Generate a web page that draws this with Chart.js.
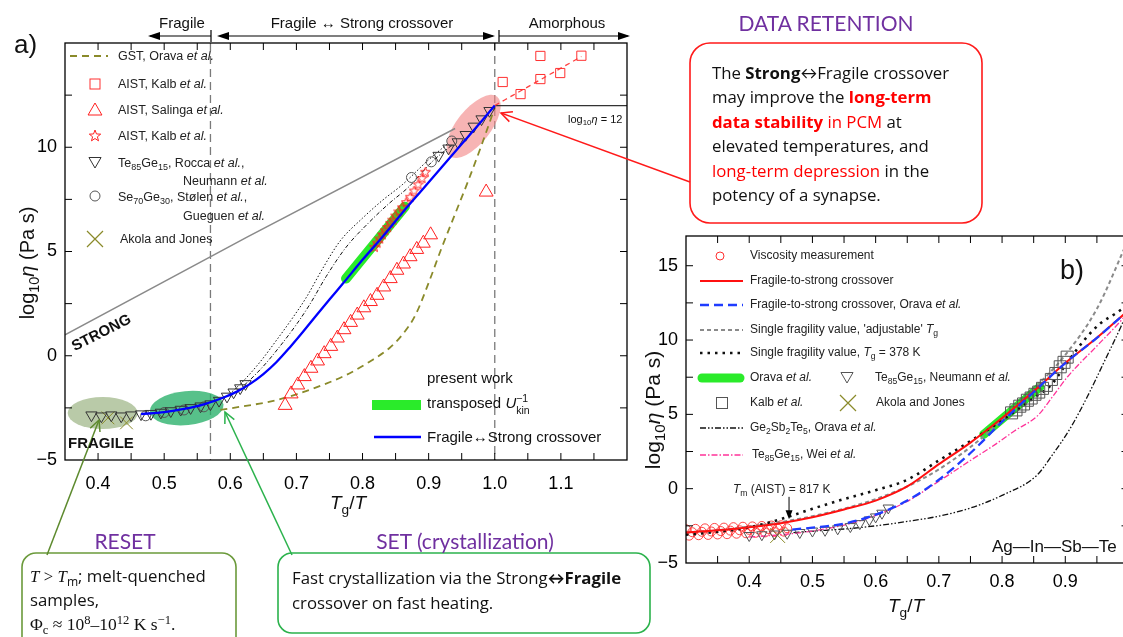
<!DOCTYPE html>
<html lang="en">
<head>
<meta charset="utf-8">
<title>Viscosity and the fragile-to-strong crossover</title>
<script src="https://cdn.jsdelivr.net/npm/chart.js@4.4.1/dist/chart.umd.min.js"></script>
<style>
  body { margin: 0; width: 1123px; height: 637px; overflow: hidden; position: relative; background: #fff;
         font-family: "Liberation Sans", Arial, sans-serif; color: #111; }
  canvas, svg, .t { position: absolute; }
  #chartA { left: 0; top: 0; }
  #chartB { left: 620px; top: 200px; }
  svg { left: 0; top: 0; }
  .t { white-space: nowrap; line-height: 1.15; transform: translateY(-50%); }
  .c { transform: translate(-50%, -50%); }
  .lg { font-size: 12px; color: #222; }
  .la { font-size: 12.5px; }
  sub { font-size: 72%; vertical-align: -0.35em; line-height: 0; }
  sup { font-size: 72%; vertical-align: 0.5em; line-height: 0; }
  .ss { display: inline-block; vertical-align: -0.6em; font-size: 70%; line-height: 1.1; }
  .ss span { display: block; }
  .box { font-family: "Open Sans", Lato, sans-serif; font-size: 16.8px; color: #111; }
  .head { font-family: Lato, "Open Sans", sans-serif; color: #7030a0; font-size: 21px; }
  .red { color: #ff0000; }
  .serif { font-family: "Liberation Serif", "DejaVu Serif", serif; }
</style>
</head>
<body>
<canvas id="chartA" width="640" height="500"></canvas>
<canvas id="chartB" width="520" height="400"></canvas>
<svg id="marks" width="1123" height="637"></svg>

<!-- panel (a) -->
<div class="t c" style="left:182px;top:23px;font-size:15px">Fragile</div>
<div class="t c" style="left:362px;top:23px;font-size:15px">Fragile ↔ Strong crossover</div>
<div class="t c" style="left:567px;top:23px;font-size:15px">Amorphous</div>
<div class="t" style="left:14px;top:45px;font-size:26px">a)</div>
<div class="t" style="left:27px;top:263px;font-size:20px;transform:translate(-50%,-50%) rotate(-90deg)">log<sub>10</sub><i>η</i> (Pa s)</div>
<div class="t c" style="left:348px;top:503px;font-size:19px"><i>T</i><sub>g</sub>/<i>T</i></div>

<div class="t lg la" style="left:118px;top:56px">GST, Orava <i>et al.</i></div>
<div class="t lg la" style="left:118px;top:84px">AIST, Kalb <i>et al.</i></div>
<div class="t lg la" style="left:118px;top:110px">AIST, Salinga <i>et al.</i></div>
<div class="t lg la" style="left:118px;top:136px">AIST, Kalb <i>et al.</i></div>
<div class="t lg la" style="left:118px;top:163px">Te<sub>85</sub>Ge<sub>15</sub>, Rocca <i>et al.</i>,</div>
<div class="t lg la" style="left:183px;top:181px">Neumann <i>et al.</i></div>
<div class="t lg la" style="left:118px;top:197px">Se<sub>70</sub>Ge<sub>30</sub>, Stølen <i>et al.</i>,</div>
<div class="t lg la" style="left:183px;top:216px">Gueguen <i>et al.</i></div>
<div class="t lg la" style="left:120px;top:239px">Akola and Jones</div>

<div class="t" style="left:427px;top:378px;font-size:15px">present work</div>
<div class="t" style="left:427px;top:405px;font-size:15px">transposed <i>U</i><span class="ss"><span>−1</span><span>kin</span></span></div>
<div class="t" style="left:427px;top:437px;font-size:15px">Fragile↔Strong crossover</div>
<div class="t" style="left:568px;top:119px;font-size:11px">log<sub>10</sub><i>η</i> = 12</div>
<div class="t" style="left:101px;top:332px;font-size:15px;font-weight:bold;transform:translate(-50%,-50%) rotate(-27deg)">STRONG</div>
<div class="t" style="left:68px;top:443px;font-size:15px;font-weight:bold">FRAGILE</div>

<!-- panel (b) -->
<div class="t c" style="left:1072px;top:271px;font-size:27px">b)</div>
<div class="t" style="left:653px;top:410px;font-size:21px;transform:translate(-50%,-50%) rotate(-90deg)">log<sub>10</sub><i>η</i> (Pa s)</div>
<div class="t c" style="left:906px;top:606px;font-size:19px"><i>T</i><sub>g</sub>/<i>T</i></div>

<div class="t lg" style="left:750px;top:256px">Viscosity measurement</div>
<div class="t lg" style="left:750px;top:281px">Fragile-to-strong crossover</div>
<div class="t lg" style="left:750px;top:305px">Fragile-to-strong crossover, Orava <i>et al.</i></div>
<div class="t lg" style="left:750px;top:330px">Single fragility value, 'adjustable' <i>T</i><sub>g</sub></div>
<div class="t lg" style="left:750px;top:353px">Single fragility value, <i>T</i><sub>g</sub> = 378 K</div>
<div class="t lg" style="left:750px;top:378px">Orava <i>et al.</i></div>
<div class="t lg" style="left:875px;top:378px">Te<sub>85</sub>Ge<sub>15</sub>, Neumann <i>et al.</i></div>
<div class="t lg" style="left:750px;top:403px">Kalb <i>et al.</i></div>
<div class="t lg" style="left:876px;top:403px">Akola and Jones</div>
<div class="t lg" style="left:750px;top:428px">Ge<sub>2</sub>Sb<sub>2</sub>Te<sub>5</sub>, Orava <i>et al.</i></div>
<div class="t lg" style="left:752px;top:455px">Te<sub>85</sub>Ge<sub>15</sub>, Wei <i>et al.</i></div>
<div class="t lg" style="left:733px;top:490px"><i>T</i><sub>m</sub> (AIST) = 817 K</div>
<div class="t" style="left:992px;top:547px;font-size:17px">Ag—In—Sb—Te</div>

<!-- call-outs -->
<div class="t c head" style="left:826px;top:23px">DATA RETENTION</div>
<div class="t box" style="left:712px;top:73px">The <b>Strong</b>↔Fragile crossover</div>
<div class="t box" style="left:712px;top:97px">may improve the <b class="red">long-term</b></div>
<div class="t box" style="left:712px;top:122px"><b class="red">data stability</b> <span class="red">in PCM</span> at</div>
<div class="t box" style="left:712px;top:146px">elevated temperatures, and</div>
<div class="t box" style="left:712px;top:171px"><span class="red">long-term depression</span> in the</div>
<div class="t box" style="left:712px;top:195px">potency of a synapse.</div>

<div class="t c head" style="left:125px;top:541px">RESET</div>
<div class="t box" style="left:30px;top:576px"><i class="serif">T</i> <span class="serif">&gt;</span> <i class="serif">T</i><sub>m</sub>; melt-quenched</div>
<div class="t box" style="left:30px;top:600px">samples,</div>
<div class="t box serif" style="left:30px;top:624px;font-size:17.5px">Φ<sub>c</sub> ≈ 10<sup>8</sup>–10<sup>12</sup> K s<sup>−1</sup>.</div>

<div class="t c head" style="left:465px;top:541px">SET (crystallization)</div>
<div class="t box" style="left:292px;top:578px">Fast crystallization via the Strong<b>↔Fragile</b></div>
<div class="t box" style="left:292px;top:603px">crossover on fast heating.</div>

<script>
/* ===== (a) DATA: Tg/T vs log10 viscosity ===== */
const gstX = [0.585, 0.62, 0.66, 0.70, 0.74, 0.78, 0.81, 0.84, 0.86, 0.88, 0.90, 0.92, 0.94, 0.96, 0.98, 1.0];
const gstY = [-2.6, -2.42, -2.2, -1.85, -1.4, -0.85, -0.3, 0.35, 1.0, 1.95, 3.5, 5.2, 6.8, 8.4, 10.1, 11.9];

const xoverX = [0.465, 0.50, 0.53, 0.56, 0.59, 0.61, 0.63, 0.65, 0.67, 0.69, 0.71, 0.73, 0.75, 0.77, 0.80, 0.83, 0.86, 0.89, 0.92, 0.95, 0.98, 1.0];
const xoverY = [-2.8, -2.7, -2.55, -2.33, -2.0, -1.72, -1.35, -0.88, -0.3, 0.4, 1.15, 1.93, 2.7, 3.45, 4.6, 5.7, 6.85, 7.95, 9.05, 10.15, 11.25, 12.0];

const strongX = [0.35, 0.626, 0.94];
const strongY = [1.0, 5.7, 10.9];

const etaRefX = [1.0, 1.2];
const etaRefY = [12, 12];

const kalbLineX = [1.0, 1.131];
const kalbLineY = [12.0, 14.35];
const kalbSqX = [1.012, 1.039, 1.069, 1.069, 1.099, 1.131];
const kalbSqY = [13.13, 12.55, 14.38, 13.27, 13.56, 14.39];

const salingaX = [0.683, 0.692, 0.702, 0.712, 0.722, 0.732, 0.742, 0.752, 0.762, 0.772, 0.782, 0.792, 0.802, 0.812, 0.822, 0.832, 0.842, 0.852, 0.862, 0.872, 0.882, 0.892, 0.903, 0.987];
const salingaY = [-2.38, -1.83, -1.4, -1.0, -0.6, -0.25, 0.1, 0.45, 0.85, 1.25, 1.6, 1.95, 2.3, 2.6, 2.9, 3.3, 3.7, 4.1, 4.4, 4.75, 5.1, 5.4, 5.8, 7.85];

const kalbStarX = [0.818, 0.822, 0.826, 0.830, 0.834, 0.838, 0.842, 0.846, 0.850, 0.855, 0.860, 0.866, 0.872, 0.878, 0.884, 0.890, 0.895];
const kalbStarY = [5.2, 5.4, 5.6, 5.8, 6.0, 6.15, 6.35, 6.5, 6.7, 6.9, 7.1, 7.35, 7.6, 7.9, 8.2, 8.5, 8.8];

const roccaX = [0.39, 0.405, 0.42, 0.435, 0.45, 0.465, 0.48, 0.495, 0.51, 0.525, 0.54, 0.555, 0.57, 0.583, 0.595, 0.605, 0.615, 0.623, 0.915, 0.93, 0.944, 0.956, 0.968, 0.98, 0.992];
const roccaY = [-2.85, -2.9, -2.85, -2.9, -2.85, -2.8, -2.78, -2.72, -2.65, -2.58, -2.5, -2.42, -2.32, -2.15, -1.95, -1.75, -1.55, -1.35, 9.6, 9.95, 10.25, 10.6, 11.0, 11.35, 11.75];

const seGeX = [0.472, 0.50, 0.53, 0.56, 0.874, 0.904, 0.935];
const seGeY = [-2.88, -2.72, -2.6, -2.45, 8.55, 9.3, 10.3];

const akolaAX = [0.415, 0.443];
const akolaAY = [-2.98, -3.22];

const dotAX = [0.595, 0.62, 0.645, 0.67, 0.695, 0.715, 0.74, 0.766, 0.80, 0.83, 0.86, 0.90, 0.93];
const dotAY = [-1.95, -1.2, -0.3, 0.75, 1.85, 2.8, 4.2, 5.5, 6.6, 7.45, 8.2, 9.4, 10.2];
const dotBX = [0.60, 0.625, 0.65, 0.675, 0.70, 0.72, 0.745, 0.775, 0.81, 0.84, 0.87, 0.905, 0.935];
const dotBY = [-1.95, -1.3, -0.5, 0.45, 1.5, 2.45, 3.8, 5.2, 6.4, 7.3, 8.1, 9.3, 10.1];

const ukinX = [0.775, 0.864];
const ukinY = [3.7, 7.15];

// regime boundaries and highlighted regions (centres in data units)
const regimeX = [0.57, 1.0];
const zoneX = [0.407, 0.534, 0.968];
const zoneY = [-2.75, -2.51, 11.0];

/* ===== (b) DATA: Ag-In-Sb-Te ===== */
const viscX = [0.300, 0.305, 0.310, 0.315, 0.320, 0.325, 0.330, 0.335, 0.340, 0.345, 0.350, 0.355, 0.360, 0.365, 0.370, 0.375, 0.380, 0.385, 0.390, 0.395, 0.400, 0.405, 0.410, 0.415, 0.420, 0.425, 0.430, 0.435, 0.440, 0.445, 0.450, 0.455, 0.460];
const viscY = [-2.73, -3.16, -2.93, -2.70, -3.13, -2.90, -2.67, -3.11, -2.88, -2.64, -3.08, -2.85, -2.62, -3.06, -2.82, -2.59, -3.03, -2.80, -2.56, -3.00, -2.77, -2.54, -2.97, -2.74, -2.51, -2.94, -2.71, -2.48, -2.92, -2.69, -2.46, -2.89, -2.66];

const fscX = [0.30, 0.35, 0.40, 0.45, 0.50, 0.55, 0.60, 0.65, 0.70, 0.75, 0.80, 0.85, 0.90, 0.95, 1.0];
const fscY = [-2.95, -2.8, -2.6, -2.32, -1.92, -1.4, -0.8, 0.15, 1.65, 3.1, 4.75, 6.55, 8.45, 10.15, 12.0];

const oravaFscX = [0.468, 0.50, 0.55, 0.60, 0.65, 0.70, 0.75, 0.80, 0.85, 0.90, 0.95, 1.0];
const oravaFscY = [-2.75, -2.62, -2.35, -1.75, -0.8, 0.6, 2.4, 4.5, 6.5, 8.45, 10.15, 12.0];

const adjX = [0.30, 0.35, 0.40, 0.45, 0.50, 0.55, 0.60, 0.65, 0.70, 0.75, 0.80, 0.85, 0.90, 0.95, 1.0];
const adjY = [-2.95, -2.8, -2.55, -2.25, -1.85, -1.35, -0.7, 0.15, 1.3, 2.8, 4.6, 6.7, 9.0, 12.1, 16.8];

const fixX = [0.30, 0.35, 0.40, 0.45, 0.50, 0.55, 0.60, 0.65, 0.70, 0.75, 0.80, 0.85, 0.878, 0.90, 0.93, 0.955, 0.98, 1.0];
const fixY = [-3.1, -2.9, -2.6, -2.05, -1.35, -0.7, -0.1, 0.6, 1.9, 3.2, 4.6, 6.1, 7.0, 8.3, 10.0, 11.1, 11.8, 12.4];

const gstBX = [0.47, 0.52, 0.56, 0.60, 0.65, 0.70, 0.75, 0.80, 0.855, 0.88, 0.907, 0.935, 0.96, 0.988, 1.0];
const gstBY = [-2.95, -2.8, -2.68, -2.5, -2.2, -1.85, -1.3, -0.45, 0.9, 2.3, 4.0, 6.2, 8.4, 10.9, 12.1];

const weiX = [0.40, 0.45, 0.50, 0.55, 0.60, 0.65, 0.70, 0.75, 0.79, 0.82, 0.856, 0.88, 0.904, 0.95, 0.988, 1.0];
const weiY = [-3.25, -3.1, -2.85, -2.45, -1.8, -0.85, 0.5, 1.9, 3.0, 3.9, 4.9, 6.2, 7.55, 9.6, 11.3, 11.9];

const oravaBX = [0.771, 0.86];
const oravaBY = [3.65, 6.85];

const neumannX = [0.40, 0.42, 0.44, 0.46, 0.48, 0.50, 0.52, 0.54, 0.56, 0.575, 0.59, 0.60, 0.61, 0.62];
const neumannY = [-3.15, -3.1, -3.05, -3.0, -2.95, -2.85, -2.8, -2.7, -2.55, -2.35, -2.1, -1.9, -1.65, -1.3];

const kalbBX = [0.815, 0.822, 0.828, 0.834, 0.840, 0.846, 0.852, 0.858, 0.864, 0.870, 0.878, 0.885, 0.892, 0.898, 0.903];
const kalbBY = [5.1, 5.3, 5.55, 5.7, 5.95, 6.1, 6.35, 6.5, 6.75, 6.95, 7.35, 7.75, 8.2, 8.5, 8.85];

const akolaBX = [0.445];
const akolaBY = [-3.15];

// melting point marker
const tmX = 0.463;
const tmArrowY = [-0.55, -2.05];

/* ===== HELPERS ===== */
const pts = (xs, ys) => xs.map((x, i) => ({ x, y: ys[i] }));
const onStep = (v, s) => Math.abs(v / s - Math.round(v / s)) < 1e-6;
const num = v => String(v).replace('-', '\u2212');
const tickFont = { family: "'Liberation Sans', Arial, sans-serif", size: 18 };

function starImage(size, color) {
  const c = document.createElement('canvas');
  c.width = c.height = size;
  const g = c.getContext('2d');
  g.strokeStyle = color;
  g.lineWidth = 1;
  g.beginPath();
  for (let i = 0; i < 10; i++) {
    const r = i % 2 ? size * 0.2 : size * 0.47;
    const a = -Math.PI / 2 + i * Math.PI / 5;
    g.lineTo(size / 2 + r * Math.cos(a), size / 2 + r * Math.sin(a));
  }
  g.closePath();
  g.stroke();
  return c;
}

function curve(xs, ys, color, width, dash = [], extra = {}) {
  return Object.assign({
    data: pts(xs, ys), showLine: true, pointRadius: 0, borderColor: color,
    borderWidth: width, borderDash: dash, cubicInterpolationMode: 'monotone', fill: false
  }, extra);
}

function markers(xs, ys, style, color, radius, extra = {}) {
  return Object.assign({
    data: pts(xs, ys), showLine: false, pointStyle: style, pointRadius: radius,
    borderColor: color, pointBorderColor: color, backgroundColor: 'transparent',
    pointBackgroundColor: 'transparent', pointBorderWidth: 1
  }, extra);
}

function axis(min, max, step, label, pad, fit) {
  return {
    type: 'linear', min, max,
    grid: { display: false, drawTicks: false },
    border: { display: false },
    ticks: { stepSize: step, autoSkip: false, maxRotation: 0, padding: pad, color: '#000', font: tickFont, callback: label },
    afterFit: fit
  };
}

/* ===== PLUGINS ===== */
// box round the plot with inward tick marks on all four sides
const frame = {
  id: 'frame',
  afterDatasetsDraw(chart, args, opts) {
    const { ctx, chartArea: a, scales: { x, y } } = chart;
    ctx.save();
    ctx.strokeStyle = '#000';
    ctx.lineWidth = 1.3;
    ctx.strokeRect(a.left, a.top, a.width, a.height);
    ctx.lineWidth = 1;
    ctx.beginPath();
    x.ticks.forEach(t => {
      if (!onStep(t.value, opts.xStep)) return;
      const px = x.getPixelForValue(t.value);
      if (px <= a.left + 1 || px >= a.right - 1) return;
      ctx.moveTo(px, a.bottom); ctx.lineTo(px, a.bottom - 7);
      ctx.moveTo(px, a.top); ctx.lineTo(px, a.top + 7);
    });
    y.ticks.forEach(t => {
      if (!onStep(t.value, opts.yStep)) return;
      const py = y.getPixelForValue(t.value);
      if (py <= a.top + 1 || py >= a.bottom - 1) return;
      ctx.moveTo(a.left, py); ctx.lineTo(a.left + 7, py);
      ctx.moveTo(a.right, py); ctx.lineTo(a.right - 7, py);
    });
    ctx.stroke();
    ctx.restore();
  }
};

// dashed regime boundaries and shaded ellipses behind the data
const zones = {
  id: 'zones',
  beforeDatasetsDraw(chart, args, opts) {
    const { ctx, chartArea: a, scales: { x, y } } = chart;
    ctx.save();
    ctx.setLineDash([8, 5]);
    ctx.strokeStyle = '#7a7a7a';
    ctx.lineWidth = 1.3;
    regimeX.forEach(v => {
      const px = x.getPixelForValue(v);
      ctx.beginPath(); ctx.moveTo(px, a.top); ctx.lineTo(px, a.bottom); ctx.stroke();
    });
    ctx.setLineDash([]);
    zoneX.forEach((zx, i) => {
      const s = opts.styles[i];
      ctx.beginPath();
      ctx.ellipse(x.getPixelForValue(zx), y.getPixelForValue(zoneY[i]), s.rx, s.ry, s.tilt, 0, Math.PI * 2);
      ctx.fillStyle = s.fill;
      ctx.fill();
    });
    ctx.restore();
  }
};

// arrow pointing at the melting temperature
const meltMark = {
  id: 'meltMark',
  afterDatasetsDraw(chart) {
    const { ctx, scales: { x, y } } = chart;
    const px = x.getPixelForValue(tmX);
    const y0 = y.getPixelForValue(tmArrowY[0]), y1 = y.getPixelForValue(tmArrowY[1]);
    ctx.save();
    ctx.strokeStyle = ctx.fillStyle = '#000';
    ctx.lineWidth = 1;
    ctx.beginPath(); ctx.moveTo(px, y0); ctx.lineTo(px, y1 - 7); ctx.stroke();
    ctx.beginPath(); ctx.moveTo(px, y1); ctx.lineTo(px - 3.5, y1 - 9); ctx.lineTo(px + 3.5, y1 - 9); ctx.closePath(); ctx.fill();
    ctx.restore();
  }
};

/* ===== CHART (a) ===== */
const olive = '#8a8a2a';
new Chart(document.getElementById('chartA'), {
  type: 'scatter',
  data: {
    datasets: [
      curve(xoverX, xoverY, '#0000ff', 2.3),
      markers(kalbStarX, kalbStarY, starImage(11, '#ff2020'), '#ff2020', 5),
      curve(ukinX, ukinY, '#2aeb2a', 10, [], { borderCapStyle: 'round' }),
      markers(roccaX, roccaY, 'triangle', '#333', 6.5, { rotation: 180 }),
      markers(seGeX, seGeY, 'circle', '#555', 5),
      markers(akolaAX, akolaAY, 'crossRot', olive, 9),
      markers(salingaX, salingaY, 'triangle', '#ff2020', 8),
      markers(kalbSqX, kalbSqY, 'rect', '#ff3030', 6.5),
      curve(kalbLineX, kalbLineY, '#ff4040', 1.3, [5, 4]),
      curve(dotAX, dotAY, '#111', 1, [1.5, 2]),
      curve(dotBX, dotBY, '#111', 1, [4, 2, 1, 2]),
      curve(gstX, gstY, olive, 1.8, [7, 5]),
      curve(strongX, strongY, '#8a8a8a', 1.5, [], { cubicInterpolationMode: 'default', tension: 0 }),
      curve(etaRefX, etaRefY, '#333', 1.2, [], { cubicInterpolationMode: 'default', tension: 0 })
    ]
  },
  options: {
    responsive: false,
    animation: false,
    devicePixelRatio: 1,
    layout: { padding: { top: 43, right: 10, left: 0, bottom: 0 } },
    plugins: {
      legend: { display: false },
      tooltip: { enabled: false },
      frame: { xStep: 0.05, yStep: 2.5 },
      zones: {
        styles: [
          { rx: 35, ry: 16, tilt: 0, fill: 'rgba(128,158,96,0.55)' },
          { rx: 37, ry: 17, tilt: -0.1, fill: 'rgba(40,175,105,0.78)' },
          { rx: 38, ry: 17, tilt: -0.9, fill: 'rgba(242,130,130,0.6)' }
        ]
      }
    },
    scales: {
      x: axis(0.35, 1.2, 0.05, v => onStep(v, 0.1) && v > 0.37 && v < 1.15 ? v.toFixed(1) : '', 13, s => { s.height = 40; }),
      y: axis(-5, 15, 2.5, v => onStep(v, 5) && v < 14 ? num(v) : '', 8, s => { s.width = 65; })
    }
  },
  plugins: [zones, frame]
});

/* ===== CHART (b) ===== */
new Chart(document.getElementById('chartB'), {
  type: 'scatter',
  data: {
    datasets: [
      curve(oravaFscX, oravaFscY, '#1f3cff', 2.3, [9, 5]),
      curve(fscX, fscY, '#ff1010', 2),
      markers(kalbBX, kalbBY, 'rect', '#555', 8.5),
      curve(fixX, fixY, '#111', 2.6, [2.5, 5]),
      curve(adjX, adjY, '#8a8a8a', 2, [4, 3]),
      curve(oravaBX, oravaBY, '#2aeb2a', 9, [], { borderCapStyle: 'round' }),
      markers(neumannX, neumannY, 'triangle', '#555', 6, { rotation: 180 }),
      markers(akolaBX, akolaBY, 'crossRot', olive, 10.5),
      curve(weiX, weiY, '#ff3399', 1.3, [6, 2, 1.5, 2]),
      curve(gstBX, gstBY, '#111', 1.3, [6, 2, 1.5, 2, 1.5, 2]),
      markers(viscX, viscY, 'circle', '#ff3030', 4.5, { pointBorderWidth: 0.9 })
    ]
  },
  options: {
    responsive: false,
    animation: false,
    devicePixelRatio: 1,
    layout: { padding: { top: 36, right: 9, left: 0, bottom: 0 } },
    plugins: {
      legend: { display: false },
      tooltip: { enabled: false },
      frame: { xStep: 0.05, yStep: 2.5 }
    },
    scales: {
      x: axis(0.3, 1.0, 0.05, v => onStep(v, 0.1) && v > 0.35 && v < 0.95 ? v.toFixed(1) : '', 8, s => { s.height = 37; }),
      y: axis(-5, 17, 2.5, v => onStep(v, 5) ? num(v) : '', 8, s => { s.width = 66; })
    }
  },
  plugins: [frame, meltMark]
});

/* ===== LEGEND SYMBOLS, ARROWS, CALL-OUT BOXES ===== */
const svg = document.getElementById('marks');
function el(tag, attrs) {
  const e = document.createElementNS('http://www.w3.org/2000/svg', tag);
  for (const k in attrs) e.setAttribute(k, attrs[k]);
  svg.appendChild(e);
  return e;
}
function seg(x1, x2, y, color, w, dash = '') {
  el('line', { x1, y1: y, x2, y2: y, stroke: color, 'stroke-width': w, 'stroke-dasharray': dash });
}
function square(x, y, s, color) {
  el('rect', { x: x - s / 2, y: y - s / 2, width: s, height: s, fill: 'none', stroke: color, 'stroke-width': 1 });
}
function tri(x, y, r, color, down) {
  const d = down ? -1 : 1;
  const p = [[0, -r], [r * 0.866, r / 2], [-r * 0.866, r / 2]].map(([a, b]) => `${x + a},${y + d * b}`).join(' ');
  el('polygon', { points: p, fill: 'none', stroke: color, 'stroke-width': 1 });
}
function star(x, y, r, color) {
  const p = [];
  for (let i = 0; i < 10; i++) {
    const rr = i % 2 ? r * 0.42 : r;
    const a = -Math.PI / 2 + i * Math.PI / 5;
    p.push(`${x + rr * Math.cos(a)},${y + rr * Math.sin(a)}`);
  }
  el('polygon', { points: p.join(' '), fill: 'none', stroke: color, 'stroke-width': 1 });
}
function cross(x, y, h, color) {
  el('path', { d: `M${x - h},${y - h}L${x + h},${y + h}M${x - h},${y + h}L${x + h},${y - h}`, stroke: color, 'stroke-width': 1.2 });
}
function pointer(x1, y1, x2, y2, color) {
  el('line', { x1, y1, x2, y2, stroke: color, 'stroke-width': 1.5 });
  const a = Math.atan2(y2 - y1, x2 - x1);
  const w = [a + Math.PI - 0.45, a + Math.PI + 0.45].map(t => `${x2 + 12 * Math.cos(t)},${y2 + 12 * Math.sin(t)}`);
  el('polyline', { points: `${w[0]} ${x2},${y2} ${w[1]}`, fill: 'none', stroke: color, 'stroke-width': 1.5 });
}
function head(x, y, dir) {
  el('polygon', { points: `${x},${y} ${x - dir * 12},${y - 4} ${x - dir * 12},${y + 4}`, fill: '#000' });
}

// regime arrows above panel (a)
seg(150, 211, 36, '#000', 1.2); head(148, 36, -1);
el('line', { x1: 211, y1: 30, x2: 211, y2: 42, stroke: '#000', 'stroke-width': 1.2 });
seg(220, 493, 36, '#000', 1.2); head(217, 36, -1); head(495, 36, 1);
el('line', { x1: 499, y1: 30, x2: 499, y2: 42, stroke: '#000', 'stroke-width': 1.2 });
seg(499, 628, 36, '#000', 1.2); head(630, 36, 1);

// legend (a)
seg(70, 108, 56, olive, 1.8, '7 5');
square(95, 84, 10, '#ff3030');
tri(95, 111, 8, '#ff2020', false);
star(95, 136, 6, '#ff2020');
tri(95, 161, 7, '#333', true);
el('circle', { cx: 95, cy: 196, r: 5, fill: 'none', stroke: '#555', 'stroke-width': 1 });
cross(95, 239, 8, olive);
seg(372, 421, 405, '#2aeb2a', 10);
seg(374, 421, 437, '#0000ff', 2.3);

// legend (b)
el('circle', { cx: 720, cy: 256, r: 4, fill: 'none', stroke: '#ff3030', 'stroke-width': 1 });
seg(700, 743, 281, '#ff1010', 2);
seg(700, 743, 305, '#1f3cff', 2.3, '9 5');
seg(700, 743, 330, '#8a8a8a', 2, '4 3');
seg(700, 743, 353, '#111', 2.6, '2.5 5');
el('line', { x1: 702, y1: 378, x2: 740, y2: 378, stroke: '#2aeb2a', 'stroke-width': 9, 'stroke-linecap': 'round' });
tri(847, 376, 7, '#555', true);
square(722, 403, 11, '#555');
cross(848, 403, 8, olive);
seg(700, 743, 428, '#111', 1.3, '6 2 1.5 2 1.5 2');
seg(700, 743, 455, '#ff3399', 1.3, '6 2 1.5 2');

// call-out boxes and their pointers
el('rect', { x: 690, y: 43, width: 292, height: 180, rx: 20, fill: 'none', stroke: '#ff1a1a', 'stroke-width': 1.6 });
el('rect', { x: 22, y: 553, width: 214, height: 100, rx: 14, fill: 'none', stroke: '#6b9a3b', 'stroke-width': 1.6 });
el('rect', { x: 278, y: 553, width: 372, height: 80, rx: 14, fill: 'none', stroke: '#2bb24c', 'stroke-width': 1.6 });
pointer(690, 182, 501, 113, '#ff1a1a');
pointer(47, 555, 99, 420, '#5d8a2e');
pointer(292, 555, 225, 412, '#2bb24c');
</script>
</body>
</html>
